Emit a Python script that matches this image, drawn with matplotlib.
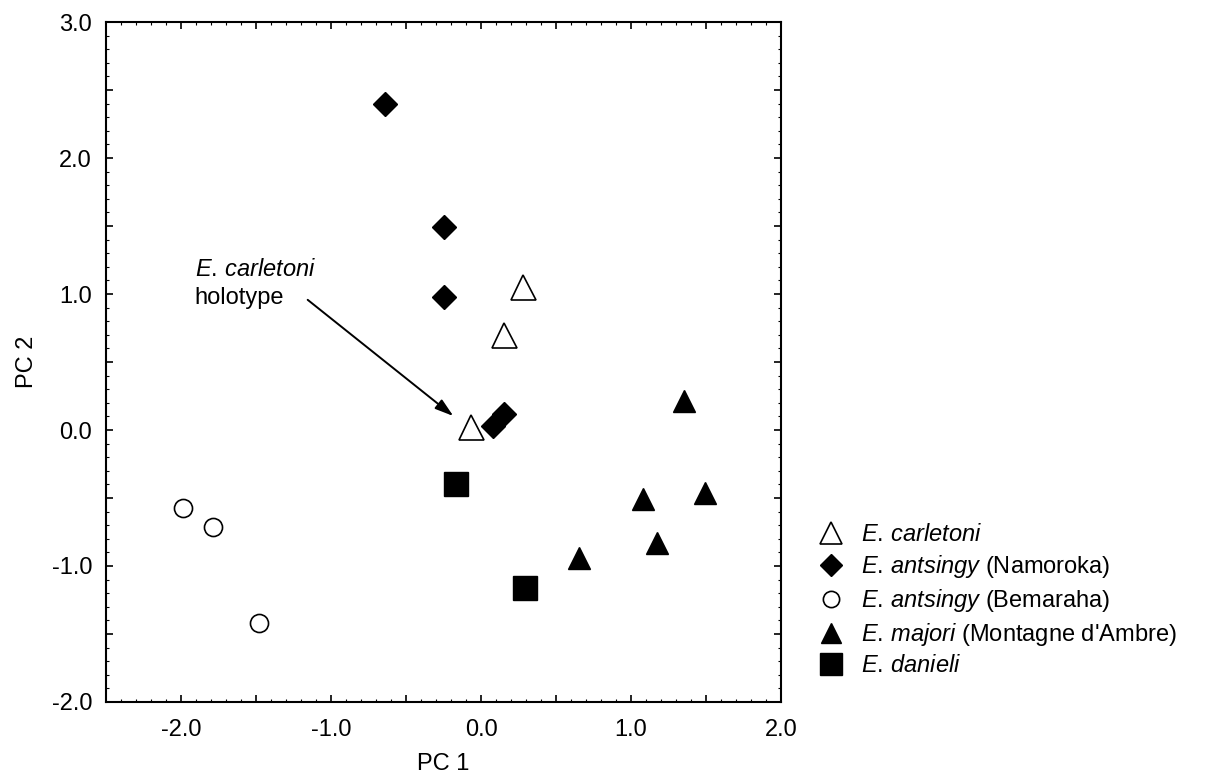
import matplotlib.pyplot as plt
from matplotlib.ticker import MultipleLocator, FuncFormatter

plt.rcParams["font.family"] = ["Liberation Sans", "DejaVu Sans"]
plt.rcParams["mathtext.fontset"] = "custom"
plt.rcParams["mathtext.rm"] = "Liberation Sans"
plt.rcParams["mathtext.it"] = "Liberation Sans:italic"

# PC scores
carletoni_x = [0.28, 0.15, -0.07]
carletoni_y = [1.05, 0.70, 0.02]

namoroka_x = [-0.64, -0.25, -0.25, 0.15, 0.08]
namoroka_y = [2.40, 1.49, 0.98, 0.12, 0.03]

bemaraha_x = [-1.99, -1.79, -1.48]
bemaraha_y = [-0.57, -0.71, -1.42]

majori_x = [1.35, 1.08, 1.49, 1.17, 0.65]
majori_y = [0.21, -0.51, -0.46, -0.83, -0.94]

danieli_x = [-0.17, 0.29]
danieli_y = [-0.40, -1.16]

FS = 17

fig = plt.figure(figsize=(12.06, 7.78), dpi=100)
ax = fig.add_axes([0.0879, 0.0977, 0.5597, 0.874])

h1, = ax.plot(carletoni_x, carletoni_y, "^", ms=18, mfc="white", mec="black", mew=1.2, ls="none")
h2, = ax.plot(namoroka_x, namoroka_y, "D", ms=12.5, mfc="black", mec="black", ls="none")
h3, = ax.plot(bemaraha_x, bemaraha_y, "o", ms=13, mfc="white", mec="black", mew=1.2, ls="none")
h4, = ax.plot(majori_x, majori_y, "^", ms=16, mfc="black", mec="black", ls="none")
h5, = ax.plot(danieli_x, danieli_y, "s", ms=17, mfc="black", mec="black", ls="none")

ax.set_xlim(-2.5, 2.0)
ax.set_ylim(-2.0, 3.0)

fmt = FuncFormatter(lambda v, p: f"{v:.1f}" if abs(v - round(v)) < 1e-6 else "")
for axis in (ax.xaxis, ax.yaxis):
    axis.set_major_locator(MultipleLocator(0.5))
    axis.set_minor_locator(MultipleLocator(0.1))
    axis.set_major_formatter(fmt)
ax.tick_params(which="major", direction="in", length=5, width=1.2, top=True, right=True,
               labelsize=FS)
ax.tick_params(axis="x", which="major", pad=12)
ax.tick_params(axis="y", which="major", pad=10)
ax.tick_params(which="minor", direction="in", length=2, width=0.8, top=True, right=True)
for s in ax.spines.values():
    s.set_linewidth(1.5)

ax.set_xlabel("PC 1", fontsize=FS, labelpad=9)
ax.set_ylabel("PC 2", fontsize=FS, labelpad=10)

# holotype annotation
ax.text(-1.91, 1.18, r"$\mathit{E.\,carletoni}$", fontsize=FS, va="center", ha="left")
ax.text(-1.91, 0.97, "holotype", fontsize=FS, va="center", ha="left")
ax.annotate("", xy=(-0.17, 0.09), xytext=(-1.17, 0.97),
            arrowprops=dict(arrowstyle="-|>,head_length=0.8,head_width=0.25",
                            color="black", lw=1.4, mutation_scale=14))

labels = [
    r"$\mathit{E.\,carletoni}$",
    r"$\mathit{E.\,antsingy}$ (Namoroka)",
    r"$\mathit{E.\,antsingy}$ (Bemaraha)",
    r"$\mathit{E.\,majori}$ (Montagne d'Ambre)",
    r"$\mathit{E.\,danieli}$",
]
fig.legend([h1, h2, h3, h4, h5], labels, loc="upper left", bbox_to_anchor=(0.66, 0.354),
           frameon=False, fontsize=FS, handletextpad=0.65, labelspacing=0.30,
           handlelength=1.2, markerscale=0.9)

fig.savefig("out.png", dpi=100)
